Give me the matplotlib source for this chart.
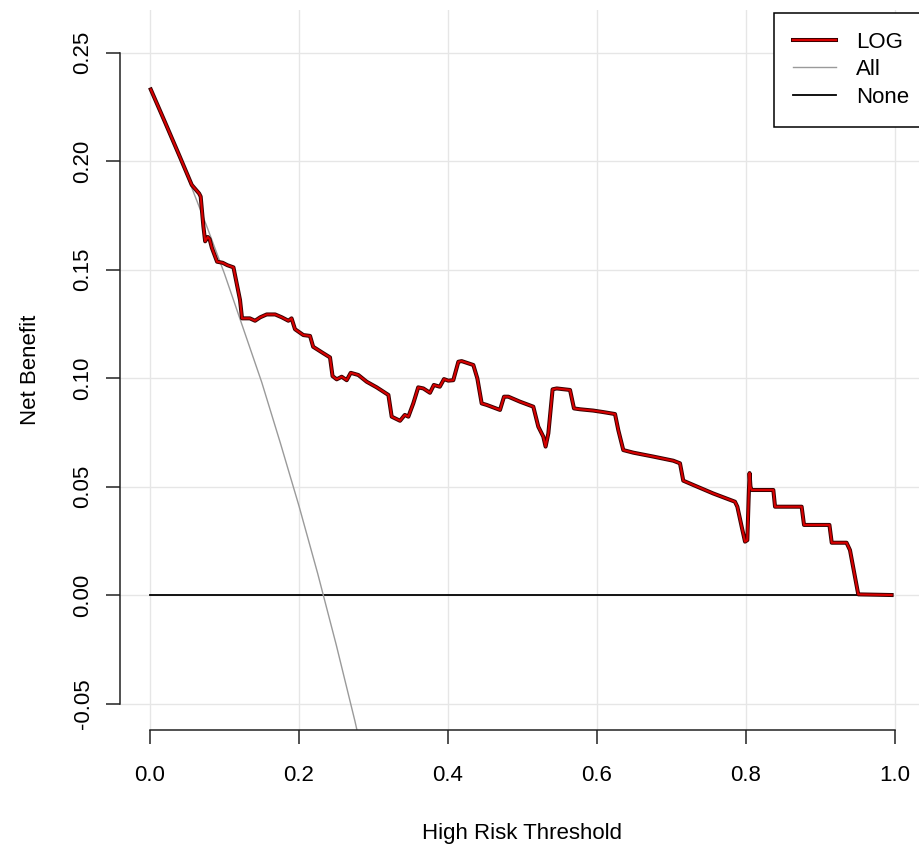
import matplotlib
matplotlib.use("Agg")
import matplotlib.pyplot as plt
import matplotlib.patheffects as pe

plt.rcParams['font.family'] = ['Liberation Sans', 'DejaVu Sans']

# LOG model decision curve
log_x = [0.001, 0.02, 0.04, 0.056, 0.066, 0.068, 0.0716, 0.074, 0.0775, 0.080, 0.083, 0.090,
         0.0976, 0.1038, 0.112, 0.1154, 0.1208, 0.1235, 0.134, 0.141, 0.148, 0.1566, 0.168,
         0.1768, 0.1857, 0.190, 0.1946, 0.2058, 0.2148, 0.219, 0.2327, 0.2416, 0.245, 0.2506,
         0.2573, 0.264, 0.2694, 0.2796, 0.2908, 0.3043, 0.320, 0.3244, 0.3356, 0.342, 0.3468,
         0.3534, 0.360, 0.3669, 0.3758, 0.381, 0.389, 0.3946, 0.4004, 0.4071, 0.4139, 0.4183,
         0.434, 0.4394, 0.4452, 0.452, 0.4698, 0.4752, 0.481, 0.4966, 0.5145, 0.5212, 0.5279,
         0.531, 0.5347, 0.5404, 0.546, 0.5638, 0.5691, 0.5772, 0.595, 0.6085, 0.6242, 0.6286,
         0.6353, 0.6488, 0.6756, 0.7024, 0.7114, 0.7158, 0.7293, 0.756, 0.7852, 0.7884, 0.7942,
         0.7987, 0.8018, 0.8036, 0.8048, 0.8060, 0.8075, 0.8367, 0.839, 0.8747, 0.8779, 0.912,
         0.9151, 0.935, 0.9396, 0.9507, 0.9955]
log_y = [0.233, 0.218, 0.202, 0.189, 0.185, 0.1836, 0.170, 0.163, 0.165, 0.164, 0.160, 0.1536,
         0.1531, 0.152, 0.151, 0.1452, 0.136, 0.1275, 0.1275, 0.1264, 0.128, 0.1293, 0.1293,
         0.128, 0.1264, 0.1275, 0.1225, 0.1198, 0.1194, 0.1144, 0.1114, 0.1095, 0.1009, 0.0994,
         0.1006, 0.099, 0.1024, 0.1014, 0.0983, 0.0957, 0.0922, 0.0822, 0.0803, 0.083, 0.0822,
         0.0883, 0.0957, 0.0952, 0.0932, 0.0968, 0.096, 0.0995, 0.0988, 0.099, 0.1075, 0.1078,
         0.106, 0.0998, 0.0883, 0.0876, 0.0853, 0.0914, 0.0914, 0.0891, 0.0868, 0.0776, 0.0730,
         0.0684, 0.0745, 0.0948, 0.0952, 0.0945, 0.0860, 0.0856, 0.085, 0.0843, 0.0834, 0.076,
         0.0668, 0.0656, 0.0638, 0.0619, 0.0607, 0.0527, 0.0507, 0.0468, 0.043, 0.0407, 0.0315,
         0.0246, 0.0253, 0.045, 0.0562, 0.0500, 0.0484, 0.0484, 0.0407, 0.0407, 0.0323, 0.0323,
         0.0241, 0.0241, 0.0207, 0.0003, 0.0]

# Treat-all curve
all_x = [0.0, 0.025, 0.05, 0.075, 0.10, 0.125, 0.15, 0.175, 0.20, 0.225, 0.25, 0.275, 0.30]
all_y = [0.233, 0.213, 0.193, 0.171, 0.148, 0.123, 0.098, 0.070, 0.041, 0.010, -0.023,
         -0.058, -0.096]

# Treat-none
none_x = [0.0, 0.9955]
none_y = [0.0, 0.0]

x_ticks = [0.0, 0.2, 0.4, 0.6, 0.8, 1.0]
y_ticks = [-0.05, 0.00, 0.05, 0.10, 0.15, 0.20, 0.25]

W, H = 920, 844
fig = plt.figure(figsize=(W / 100, H / 100), dpi=100)
ax = fig.add_axes([120 / W, (H - 730) / H, (925 - 120) / W, (730 - 10) / H])
ax.set_xlim(-0.0403, 1.0403)
ax.set_ylim(-0.0622, 0.2696)

for t in x_ticks:
    ax.axvline(t, color='#E6E6E6', lw=1.0, zorder=0)
for t in y_ticks:
    ax.axhline(t, color='#E6E6E6', lw=1.0, zorder=0)

ax.plot(none_x, none_y, color='black', lw=1.3, label='None', zorder=2)
ax.plot(all_x, all_y, color='#9A9A9A', lw=1.0, label='All', zorder=2)
ax.plot(log_x, log_y, color='#D80000', lw=1.5, label='LOG', zorder=3,
        path_effects=[pe.Stroke(linewidth=2.9, foreground='#3A0000'), pe.Normal()])

for s in ['top', 'right']:
    ax.spines[s].set_visible(False)
ax.spines['left'].set_bounds(-0.05, 0.25)
ax.spines['bottom'].set_bounds(0.0, 1.0)
for s in ['left', 'bottom']:
    ax.spines[s].set_linewidth(1.1)
    ax.spines[s].set_color('#222222')

ax.set_xticks(x_ticks)
ax.set_xticklabels(['0.0', '0.2', '0.4', '0.6', '0.8', '1.0'])
ax.set_yticks(y_ticks)
ax.set_yticklabels(['-0.05', '0.00', '0.05', '0.10', '0.15', '0.20', '0.25'],
                   rotation=90, va='center')
ax.tick_params(axis='both', direction='out', length=10, width=1.1, color='#222222',
               labelsize=16)
ax.tick_params(axis='x', pad=15.5)
ax.tick_params(axis='y', pad=9)

ax.set_xlabel('High Risk Threshold', fontsize=16, labelpad=26)
ax.set_ylabel('Net Benefit', fontsize=16, labelpad=23)

handles, labels = ax.get_legend_handles_labels()
order = [2, 1, 0]
leg = ax.legend([handles[i] for i in order], [labels[i] for i in order],
                loc='upper right', bbox_to_anchor=(1.0 + 4 / 805, 1.0 - 1.5 / 720),
                borderaxespad=0.05,
                fontsize=16, frameon=True, fancybox=False, framealpha=1,
                edgecolor='black', handlelength=1.95, handletextpad=0.9,
                labelspacing=0.3, borderpad=0.85)
leg.get_frame().set_linewidth(1.1)

fig.savefig('out.png', dpi=100)
